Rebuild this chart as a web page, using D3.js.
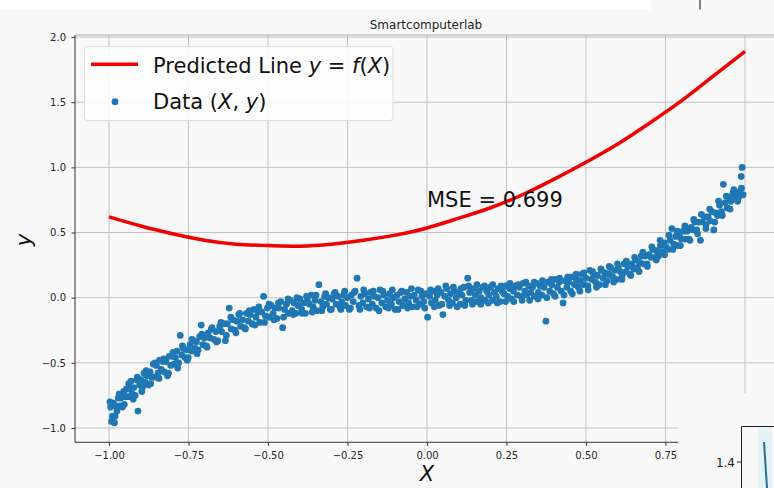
<!DOCTYPE html>
<html>
<head>
<meta charset="utf-8">
<title>Smartcomputerlab</title>
<script src="https://cdn.jsdelivr.net/npm/d3@7"></script>
<style>
    body { margin: 0; background: #f8f8f8; }
    svg { display: block; font-family: "DejaVu Sans", sans-serif; }
</style>
</head>
<body>
<script>
    var titleText = "Smartcomputerlab";
    var mseText = "MSE = 0.699";
    var xTicks = [-1.0, -0.75, -0.5, -0.25, 0, 0.25, 0.5, 0.75, 1.0];
    var yTicks = [-1.0, -0.5, 0, 0.5, 1.0, 1.5, 2.0];

    // predicted line y = f(X)
    var lineX = [-1.0, -0.9, -0.8, -0.7, -0.6, -0.5, -0.4, -0.3, -0.2, -0.1, 0,
                 0.1, 0.2, 0.3, 0.4, 0.5, 0.6, 0.7, 0.8, 0.9, 1.0];
    var lineY = [0.62, 0.55, 0.49, 0.44, 0.41, 0.40, 0.395, 0.41, 0.44, 0.48, 0.535,
                 0.61, 0.69, 0.79, 0.91, 1.04, 1.18, 1.34, 1.51, 1.70, 1.89];

    // scatter (X, y), middle of the band
    var dataPoints = [
        [-0.995,-0.84],[-0.992,-0.95],[-0.989,-0.91],[-0.986,-0.81],[-0.983,-0.96],[-0.979,-0.83],
        [-0.975,-0.87],[-0.971,-0.77],[-0.967,-0.83],[-0.963,-0.77],[-0.958,-0.84],[-0.954,-0.72],
        [-0.949,-0.76],[-0.945,-0.70],[-0.940,-0.76],[-0.936,-0.70],[-0.931,-0.64],[-0.927,-0.74],
        [-0.922,-0.69],[-0.918,-0.75],[-0.913,-0.63],[-0.909,-0.87],[-0.904,-0.67],[-0.900,-0.63],
        [-0.895,-0.69],[-0.890,-0.58],[-0.886,-0.65],[-0.881,-0.60],[-0.876,-0.67],[-0.871,-0.57],
        [-0.866,-0.61],[-0.861,-0.51],[-0.856,-0.61],[-0.851,-0.52],[-0.846,-0.58],[-0.841,-0.48],
        [-0.836,-0.55],[-0.831,-0.49],[-0.826,-0.57],[-0.821,-0.49],[-0.816,-0.60],[-0.811,-0.45],
        [-0.806,-0.52],[-0.801,-0.45],[-0.796,-0.51],[-0.791,-0.46],[-0.786,-0.41],[-0.781,-0.50],
        [-0.776,-0.29],[-0.771,-0.44],[-0.766,-0.39],[-0.761,-0.46],[-0.756,-0.40],[-0.751,-0.46],
        [-0.745,-0.36],[-0.740,-0.41],[-0.735,-0.33],[-0.730,-0.39],[-0.725,-0.34],[-0.720,-0.40],
        [-0.715,-0.30],[-0.710,-0.21],[-0.705,-0.36],[-0.700,-0.31],[-0.694,-0.37],[-0.688,-0.27],
        [-0.682,-0.31],[-0.676,-0.23],[-0.670,-0.32],[-0.664,-0.26],[-0.658,-0.33],[-0.652,-0.22],
        [-0.646,-0.26],[-0.640,-0.20],[-0.634,-0.33],[-0.628,-0.20],[-0.622,-0.08],[-0.616,-0.24],
        [-0.610,-0.17],[-0.604,-0.25],[-0.598,-0.18],[-0.592,-0.13],[-0.586,-0.22],[-0.580,-0.17],
        [-0.574,-0.23],[-0.568,-0.12],[-0.562,-0.18],[-0.556,-0.13],[-0.550,-0.20],[-0.544,-0.09],
        [-0.538,-0.15],[-0.532,-0.11],[-0.526,-0.19],[-0.520,-0.11],[-0.514,0.01],[-0.508,-0.14],
        [-0.502,-0.08],[-0.496,-0.15],[-0.490,-0.06],[-0.484,-0.12],[-0.478,-0.08],[-0.472,-0.16],
        [-0.466,-0.08],[-0.460,-0.03],[-0.454,-0.23],[-0.448,-0.09],[-0.442,-0.05],[-0.436,-0.12],
        [-0.430,-0.02],[-0.424,-0.10],[-0.418,-0.04],[-0.412,-0.12],[-0.406,-0.06],[-0.400,-0.01],
        [-0.394,-0.09],[-0.388,-0.04],[-0.382,-0.12],[-0.376,-0.02],[-0.370,-0.05],[-0.364,0.02],
        [-0.358,-0.07],[-0.352,-0.02],[-0.346,-0.10],[-0.340,0.10],[-0.334,-0.03],[-0.328,-0.07],
        [-0.322,0.01],[-0.316,-0.05],[-0.310,0.00],[-0.304,-0.09],[-0.298,-0.01],[-0.292,0.03],
        [-0.286,-0.05],[-0.280,0.01],[-0.274,-0.07],[-0.268,-0.03],[-0.262,0.02],[-0.256,-0.06],
        [-0.250,0.00],[-0.244,-0.09],[-0.238,0.02],[-0.232,-0.03],[-0.226,0.05],[-0.220,0.15],
        [-0.214,-0.06],[-0.208,0.01],[-0.202,-0.04],[-0.196,0.03],[-0.190,-0.07],[-0.184,-0.01],
        [-0.178,0.04],[-0.172,-0.05],[-0.166,0.01],[-0.160,-0.08],[-0.154,0.00],[-0.148,0.06],
        [-0.142,-0.04],[-0.136,0.02],[-0.130,-0.07],[-0.124,-0.02],[-0.118,0.03],[-0.112,-0.05],
        [-0.106,0.00],[-0.100,-0.09],[-0.094,0.02],[-0.088,-0.03],[-0.082,0.04],[-0.076,-0.06],
        [-0.070,-0.01],[-0.064,0.04],[-0.058,-0.04],[-0.052,0.01],[-0.046,-0.07],[-0.040,0.02],
        [-0.034,-0.02],[-0.028,0.06],[-0.022,-0.05],[-0.016,0.01],[-0.010,-0.03],[-0.004,0.03],
        [0.002,-0.15],[0.008,0.01],[0.014,-0.04],[0.020,0.05],[0.026,-0.02],[0.032,0.02],
        [0.038,-0.06],[0.044,0.04],[0.050,-0.13],[0.056,0.01],[0.062,0.07],[0.068,-0.02],
        [0.074,0.03],[0.080,-0.04],[0.086,0.05],[0.092,0.00],[0.098,0.04],[0.104,-0.05],
        [0.110,0.02],[0.116,0.08],[0.122,-0.02],[0.128,0.15],[0.134,0.04],[0.140,-0.02],
        [0.146,0.07],[0.152,0.02],[0.158,-0.03],[0.164,0.05],[0.170,0.00],[0.176,0.08],
        [0.182,-0.02],[0.188,0.05],[0.194,0.02],[0.200,0.08],[0.206,-0.02],[0.212,0.04],
        [0.218,0.01],[0.224,0.07],[0.230,-0.03],[0.236,0.05],[0.242,0.03],[0.248,0.09],
        [0.254,0.01],[0.260,0.07],[0.266,-0.01],[0.272,0.05],[0.278,0.09],[0.284,0.02],
        [0.290,0.08],[0.296,0.01],[0.302,0.11],[0.308,0.05],[0.314,0.02],[0.320,0.09],
        [0.326,0.04],[0.332,0.08],[0.338,0.01],[0.344,0.11],[0.350,0.04],[0.356,0.09],
        [0.362,0.02],[0.368,0.08],[0.374,-0.18],[0.380,0.12],[0.386,0.05],[0.392,0.10],
        [0.398,0.03],[0.404,0.14],[0.410,0.08],[0.416,0.12],[0.422,0.05],[0.428,-0.04],
        [0.434,0.13],[0.440,0.08],[0.446,0.12],[0.452,0.05],[0.458,0.16],[0.464,0.10],
        [0.470,0.14],[0.476,0.08],[0.482,0.13],[0.488,0.18],[0.494,0.10],[0.500,0.15],
        [0.506,0.09],[0.512,0.21],[0.518,0.14],[0.524,0.18],[0.530,0.12],[0.536,0.17],
        [0.542,0.10],[0.548,0.21],[0.554,0.15],[0.560,0.19],[0.566,0.13],[0.572,0.18],
        [0.578,0.23],[0.584,0.16],[0.590,0.21],[0.596,0.14],[0.602,0.23],[0.608,0.20],
        [0.614,0.17],[0.620,0.26],[0.626,0.20],[0.632,0.24],[0.638,0.18],[0.644,0.26],
        [0.650,0.22],[0.656,0.29],[0.662,0.23],[0.668,0.27],[0.674,0.32],[0.680,0.26],
        [0.686,0.32],[0.692,0.26],[0.698,0.33],[0.704,0.31],[0.710,0.37],[0.716,0.31],
        [0.722,0.36],[0.728,0.32],[0.734,0.40],[0.740,0.35],[0.746,0.42],[0.752,0.39],
        [0.758,0.37],[0.764,0.44],[0.770,0.53],[0.776,0.41],[0.782,0.47],[0.788,0.40],
        [0.794,0.47],[0.800,0.45],[0.806,0.51],[0.812,0.45],[0.818,0.51],[0.824,0.45],
        [0.830,0.54],[0.836,0.52],[0.842,0.58],[0.848,0.52],[0.854,0.58],[0.860,0.44],
        [0.866,0.58],[0.872,0.62],[0.878,0.56],[0.884,0.62],[0.890,0.59],[0.896,0.66],
        [0.902,0.52],[0.908,0.65],[0.914,0.63],[0.920,0.71],[0.926,0.66],[0.932,0.87],
        [0.938,0.73],[0.944,0.69],[0.950,0.77],[0.956,0.74],[0.962,0.80],[0.968,0.77],
        [0.974,0.81],[0.980,0.77],[0.984,0.81],[0.988,0.93],[0.991,1.00],[0.994,0.79]
    ];

    // scatter (X, y), upper and lower edges of the band
    var edgePoints = [
        [-0.997,-0.80],[-0.981,-0.91],[-0.968,-0.74],[-0.952,-0.82],[-0.938,-0.66],[-0.924,-0.78],
        [-0.911,-0.61],[-0.897,-0.72],[-0.883,-0.56],[-0.869,-0.66],[-0.855,-0.50],[-0.843,-0.62],
        [-0.828,-0.47],[-0.813,-0.58],[-0.799,-0.42],[-0.784,-0.54],[-0.769,-0.37],[-0.754,-0.48],
        [-0.739,-0.32],[-0.723,-0.43],[-0.708,-0.28],[-0.692,-0.38],[-0.678,-0.24],[-0.662,-0.34],
        [-0.648,-0.19],[-0.631,-0.29],[-0.617,-0.15],[-0.601,-0.27],[-0.589,-0.12],[-0.571,-0.24],
        [-0.559,-0.10],[-0.541,-0.21],[-0.529,-0.07],[-0.511,-0.19],[-0.497,-0.05],[-0.481,-0.17],
        [-0.467,-0.04],[-0.451,-0.15],[-0.437,-0.01],[-0.421,-0.13],[-0.409,0.00],[-0.393,-0.12],
        [-0.379,0.01],[-0.361,-0.11],[-0.349,0.02],[-0.331,-0.10],[-0.319,0.03],[-0.301,-0.09],
        [-0.289,0.04],[-0.271,-0.09],[-0.259,0.05],[-0.241,-0.08],[-0.229,0.04],[-0.211,-0.09],
        [-0.199,0.06],[-0.181,-0.08],[-0.169,0.05],[-0.151,-0.10],[-0.139,0.05],[-0.121,-0.08],
        [-0.109,0.06],[-0.091,-0.09],[-0.079,0.05],[-0.061,-0.08],[-0.049,0.07],[-0.031,-0.07],
        [-0.019,0.05],[-0.007,-0.08],[0.011,0.06],[0.023,-0.07],[0.035,0.07],[0.047,-0.05],
        [0.059,0.09],[0.071,-0.06],[0.083,0.08],[0.095,-0.07],[0.107,0.07],[0.119,-0.06],
        [0.131,0.09],[0.143,-0.05],[0.157,0.10],[0.169,-0.05],[0.181,0.09],[0.193,-0.04],
        [0.207,0.10],[0.221,-0.04],[0.233,0.09],[0.247,-0.03],[0.261,0.11],[0.273,-0.03],
        [0.287,0.10],[0.299,-0.02],[0.311,0.12],[0.323,-0.02],[0.337,0.12],[0.349,-0.01],
        [0.363,0.13],[0.377,0.00],[0.391,0.14],[0.403,0.01],[0.417,0.15],[0.431,0.02],
        [0.443,0.16],[0.457,0.03],[0.469,0.18],[0.481,0.05],[0.493,0.19],[0.507,0.06],
        [0.521,0.20],[0.533,0.08],[0.547,0.22],[0.561,0.10],[0.573,0.24],[0.587,0.12],
        [0.599,0.26],[0.613,0.14],[0.627,0.28],[0.641,0.17],[0.653,0.31],[0.667,0.20],
        [0.679,0.35],[0.693,0.24],[0.707,0.39],[0.721,0.29],[0.733,0.44],[0.747,0.33],
        [0.761,0.48],[0.773,0.37],[0.787,0.51],[0.797,0.40],[0.811,0.55],[0.827,0.44],
        [0.839,0.60],[0.851,0.49],[0.863,0.64],[0.877,0.53],[0.889,0.68],[0.905,0.58],
        [0.917,0.74],[0.929,0.63],[0.941,0.78],[0.953,0.68],[0.965,0.83],[0.977,0.74],
        [0.989,0.84]
    ];

    var width = 774,
        height = 488,
        plotLeft = 75,
        plotRight = 779,
        plotTop = 35,
        plotBottom = 442.3;

    var x = d3.scaleLinear().domain([-1.107, 1.107]).range([plotLeft, plotRight]);
    var y = d3.scaleLinear().domain([-1.11, 2.016]).range([plotBottom, plotTop]);

    var svg = d3.select("body").append("svg")
        .attr("width", width)
        .attr("height", height);

    svg.append("rect")
        .attr("width", width).attr("height", height)
        .attr("fill", "#f8f8f8");

    // strip of the window above the figure
    svg.append("rect")
        .attr("x", 0).attr("y", 0).attr("width", 651).attr("height", 9.5)
        .attr("fill", "#ffffff");
    svg.append("line")
        .attr("x1", 700).attr("x2", 700).attr("y1", 0).attr("y2", 9.5)
        .attr("stroke", "#333").attr("stroke-width", 1.2);

    // grid
    var grid = svg.append("g");
    grid.selectAll("line.vx")
        .data(xTicks)
      .enter().append("line")
        .attr("class", "vx")
        .attr("x1", function(d) { return x(d); })
        .attr("x2", function(d) { return x(d); })
        .attr("y1", plotTop).attr("y2", plotBottom)
        .attr("stroke", "#c2c2c2").attr("stroke-width", 1);
    grid.selectAll("line.hy")
        .data(yTicks)
      .enter().append("line")
        .attr("class", "hy")
        .attr("x1", plotLeft).attr("x2", width)
        .attr("y1", function(d) { return y(d); })
        .attr("y2", function(d) { return y(d); })
        .attr("stroke", "#c2c2c2").attr("stroke-width", 1);

    // predicted line
    var lineData = lineX.map(function(d, i) { return [d, lineY[i]]; });
    var line = d3.line()
        .curve(d3.curveNatural)
        .x(function(d) { return x(d[0]); })
        .y(function(d) { return y(d[1]); });

    // data points
    svg.append("g").selectAll("circle")
        .data(dataPoints.concat(edgePoints))
      .enter().append("circle")
        .attr("cx", function(d) { return x(d[0]); })
        .attr("cy", function(d) { return y(d[1]); })
        .attr("r", 3.4)
        .attr("fill", "#1f77b4");

    svg.append("path")
        .datum(lineData)
        .attr("d", line)
        .attr("fill", "none")
        .attr("stroke", "#f00000")
        .attr("stroke-width", 3.5);

    // axes
    var xAxis = d3.axisBottom(x).tickValues(xTicks)
        .tickFormat(d3.format(".2f")).tickSize(3.5).tickPadding(6.6);
    var yAxis = d3.axisLeft(y).tickValues(yTicks)
        .tickFormat(d3.format(".1f")).tickSize(3.5).tickPadding(5.5);

    var gx = svg.append("g")
        .attr("transform", "translate(0," + plotBottom + ")")
        .call(xAxis);
    var gy = svg.append("g")
        .attr("transform", "translate(" + plotLeft + ",0)")
        .call(yAxis);

    [gx, gy].forEach(function(g) {
        g.select(".domain").remove();
        g.selectAll("text")
            .attr("font-family", "DejaVu Sans")
            .attr("font-size", 10)
            .attr("fill", "#262626");
        g.selectAll("line").attr("stroke", "#333");
    });

    // spines
    svg.append("line")
        .attr("x1", plotLeft).attr("x2", plotLeft).attr("y1", plotTop).attr("y2", plotBottom)
        .attr("stroke", "#333").attr("stroke-width", 1);
    svg.append("line")
        .attr("x1", plotLeft).attr("x2", plotRight).attr("y1", plotBottom).attr("y2", plotBottom)
        .attr("stroke", "#333").attr("stroke-width", 1);
    svg.append("line")
        .attr("x1", plotLeft).attr("x2", width).attr("y1", plotTop).attr("y2", plotTop)
        .attr("stroke", "#a8a8a8").attr("stroke-width", 1);

    // title and labels
    svg.append("text")
        .attr("x", 426).attr("y", 28.5)
        .attr("text-anchor", "middle")
        .attr("font-size", 12)
        .attr("fill", "#222")
        .text(titleText);

    svg.append("text")
        .attr("x", x(0)).attr("y", 206.5)
        .attr("font-size", 21)
        .attr("fill", "#111")
        .text(mseText);

    svg.append("text")
        .attr("x", x(0)).attr("y", 481)
        .attr("text-anchor", "middle")
        .attr("font-size", 21)
        .attr("font-style", "italic")
        .attr("fill", "#111")
        .text("X");

    svg.append("text")
        .attr("transform", "translate(31,240) rotate(-90)")
        .attr("text-anchor", "middle")
        .attr("font-size", 21)
        .attr("font-style", "italic")
        .attr("fill", "#111")
        .text("y");

    // legend
    var legend = svg.append("g");
    legend.append("rect")
        .attr("x", 84.5).attr("y", 46.5).attr("width", 308.5).attr("height", 74)
        .attr("rx", 3)
        .attr("fill", "#fdfdfd").attr("fill-opacity", 0.9)
        .attr("stroke", "#dcdcdc");
    legend.append("line")
        .attr("x1", 91).attr("x2", 138).attr("y1", 64.3).attr("y2", 64.3)
        .attr("stroke", "#f00000").attr("stroke-width", 3.5);
    legend.append("circle")
        .attr("cx", 115).attr("cy", 101.7).attr("r", 3.4)
        .attr("fill", "#1f77b4");

    var t1 = legend.append("text")
        .attr("x", 153).attr("y", 72.5)
        .attr("font-size", 21).attr("fill", "#111");
    t1.append("tspan").text("Predicted Line ");
    t1.append("tspan").attr("font-style", "italic").text("y");
    t1.append("tspan").text(" = ");
    t1.append("tspan").attr("font-style", "italic").text("f");
    t1.append("tspan").text("(");
    t1.append("tspan").attr("font-style", "italic").text("X");
    t1.append("tspan").text(")");

    var t2 = legend.append("text")
        .attr("x", 153).attr("y", 108.5)
        .attr("font-size", 21).attr("fill", "#111");
    t2.append("tspan").text("Data (");
    t2.append("tspan").attr("font-style", "italic").text("X");
    t2.append("tspan").text(", ");
    t2.append("tspan").attr("font-style", "italic").text("y");
    t2.append("tspan").text(")");

    // another window overlapping the bottom right corner
    var win = svg.append("g");
    win.append("rect")
        .attr("x", 678).attr("y", 393).attr("width", 96).attr("height", 95)
        .attr("fill", "#f8f8f8");
    win.append("rect")
        .attr("x", 758).attr("y", 427).attr("width", 14).attr("height", 61)
        .attr("fill", "#e3f3f7");
    win.append("line")
        .attr("x1", 764).attr("y1", 442).attr("x2", 767).attr("y2", 488)
        .attr("stroke", "#2a6f90").attr("stroke-width", 2);
    win.append("path")
        .attr("d", "M741.5,488V426.5H774")
        .attr("fill", "none").attr("stroke", "#222").attr("stroke-width", 1);
    win.append("line")
        .attr("x1", 737).attr("x2", 741).attr("y1", 462).attr("y2", 462)
        .attr("stroke", "#222");
    win.append("text")
        .attr("x", 735).attr("y", 466.5)
        .attr("text-anchor", "end")
        .attr("font-size", 12)
        .attr("fill", "#222")
        .text("1.4");
</script>
</body>
</html>
